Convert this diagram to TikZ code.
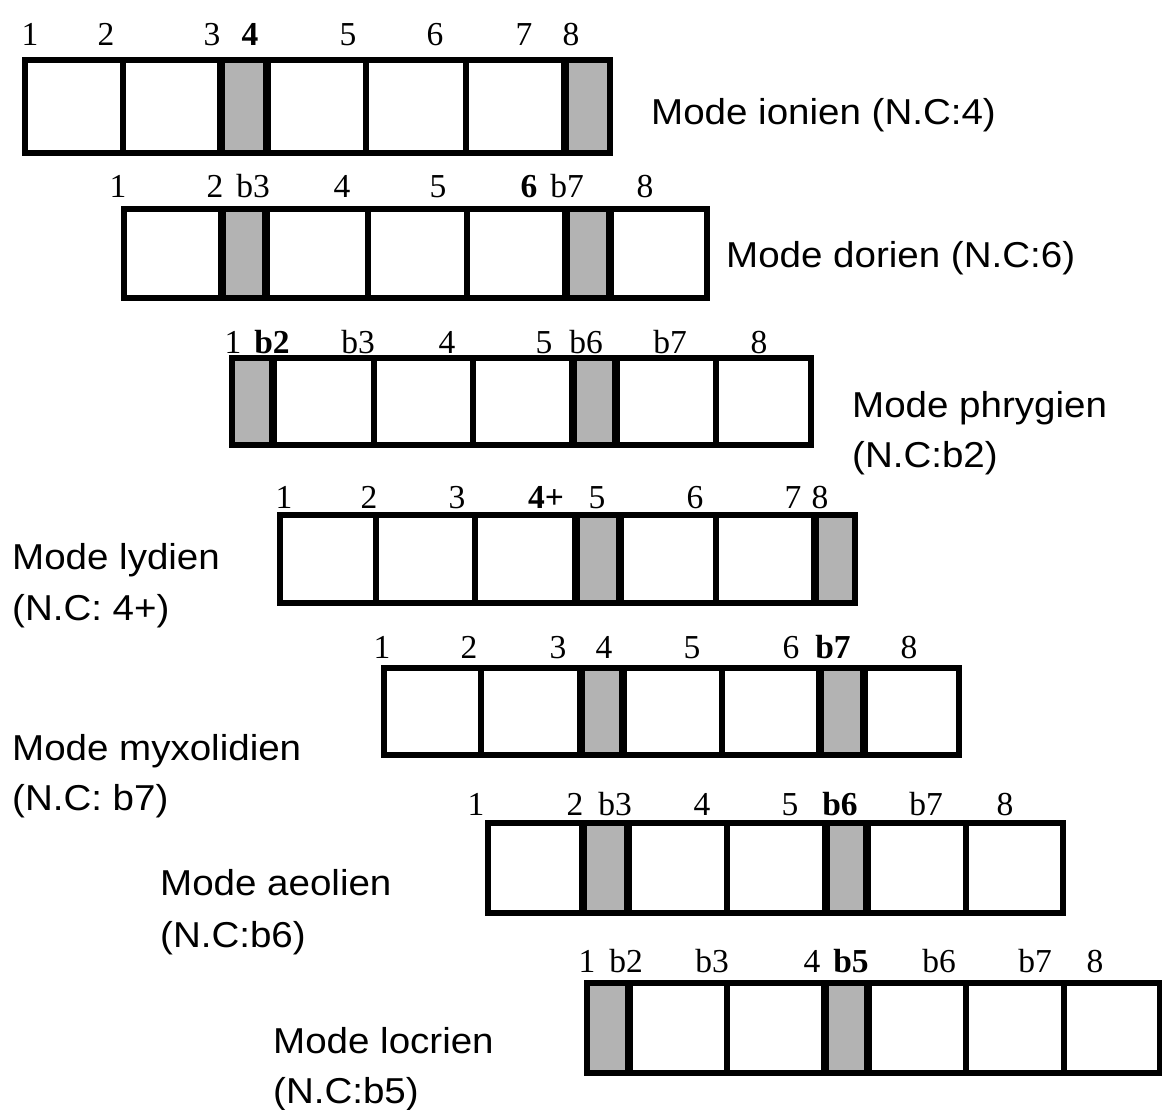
\documentclass[tikz,border=0pt]{standalone}
\usepackage{fontspec}
\newfontfamily\numfont{Liberation Serif}
\newfontfamily\labfont[FakeStretch=1.07]{Liberation Sans}
\definecolor{cellgray}{RGB}{179,179,179}
\tikzset{
  outline/.style={draw=black, line width=6pt, line join=miter},
  divline/.style={draw=black, line width=5.5pt},
  gline/.style={draw=black, line width=8.5pt},
  num/.style={font=\numfont\fontsize{33.5}{35}\selectfont, anchor=base, inner sep=0pt},
  bnum/.style={font=\numfont\bfseries\fontsize{33.5}{35}\selectfont, anchor=base, inner sep=0pt},
  lab/.style={font=\labfont\fontsize{36}{38}\selectfont, anchor=base west, inner sep=0pt},
}
% #1 top, #2 bottom, #3 gray x-pairs, #4 normal dividers, #5 thick dividers, #6 left, #7 right
\newcommand\modebar[7]{%
  \foreach \ga/\gb in {#3}{\fill[cellgray] (\ga,#1) rectangle (\gb,#2);}
  \foreach \d in {#4}{\draw[divline] (\d,#1) -- (\d,#2);}
  \foreach \d in {#5}{\draw[gline] (\d,#1) -- (\d,#2);}
  \draw[outline] (#6,#1) rectangle (#7,#2);
}
\begin{document}
\begin{tikzpicture}[x=1pt,y=-1pt]
\useasboundingbox (0,0) rectangle (1162,1110);
\fill[white] (0,0) rectangle (1162,1110);

% Row 1: ionien
\modebar{60}{153}{221/267,565/610}{123,366,466}{221,267,565}{25}{610}
\node[num] (a1) at (30,46) {1};
\node[num] (a2) at (106,46) {2};
\node[num] (a3) at (212,46) {3};
\node[bnum] (a4) at (250,46) {4};
\node[num] (a5) at (348,46) {5};
\node[num] (a6) at (435,46) {6};
\node[num] (a7) at (524,46) {7};
\node[num] (a8) at (571,46) {8};
\node[lab] (la) at (651,125) {Mode ionien (N.C:4)};

% Row 2: dorien
\modebar{209}{298}{222/266,566/610}{368,467}{222,266,566,610}{124}{707}
\node[num] (b1) at (118,198) {1};
\node[num] (b2) at (215,198) {2};
\node[num] (b3) at (253,198) {b3};
\node[num] (b4) at (342,198) {4};
\node[num] (b5) at (438,198) {5};
\node[bnum] (b6) at (529,198) {6};
\node[num] (b7) at (567,198) {b7};
\node[num] (b8) at (645,198) {8};
\node[lab] (lb) at (726,267) {Mode dorien (N.C:6)};

% Row 3: phrygien
\modebar{358}{445}{232/273,573/616}{374,473,716}{273,573,616}{232}{811}
\node[num] (c1) at (233,353) {1};
\node[bnum] (c2) at (272,353) {b2};
\node[num] (c3) at (358,353) {b3};
\node[num] (c4) at (447,353) {4};
\node[num] (c5) at (544,353) {5};
\node[num] (c6) at (586,353) {b6};
\node[num] (c7) at (670,353) {b7};
\node[num] (c8) at (759,353) {8};
\node[lab] (lc1) at (852,417) {Mode phrygien};
\node[lab] (lc2) at (852,467) {(N.C:b2)};

% Row 4: lydien
\modebar{515}{603}{576/620,815/855}{376,475,716}{576,620,815}{280}{855}
\node[num] (d1) at (284,508) {1};
\node[num] (d2) at (369,508) {2};
\node[num] (d3) at (457,508) {3};
\node[bnum] (d4) at (546,508) {4+};
\node[num] (d5) at (597,508) {5};
\node[num] (d6) at (695,508) {6};
\node[num] (d7) at (793,508) {7};
\node[num] (d8) at (820,508) {8};
\node[lab] (ld1) at (12,569) {Mode lydien};
\node[lab] (ld2) at (12,620) {(N.C: 4+)};

% Row 5: myxolidien
\modebar{668}{755}{581/623,820/864}{481,722}{581,623,820,864}{384}{959}
\node[num] (e1) at (382,658) {1};
\node[num] (e2) at (469,658) {2};
\node[num] (e3) at (558,658) {3};
\node[num] (e4) at (604,658) {4};
\node[num] (e5) at (692,658) {5};
\node[num] (e6) at (791,658) {6};
\node[bnum] (e7) at (833,658) {b7};
\node[num] (e8) at (909,658) {8};
\node[lab] (le1) at (12,760) {Mode myxolidien};
\node[lab] (le2) at (12,810) {(N.C: b7)};

% Row 6: aeolien
\modebar{823}{913}{583/628,826/867}{727,966}{583,628,826,867}{488}{1063}
\node[num] (f1) at (476,815) {1};
\node[num] (f2) at (575,815) {2};
\node[num] (f3) at (615,815) {b3};
\node[num] (f4) at (702,815) {4};
\node[num] (f5) at (790,815) {5};
\node[bnum] (f6) at (840,815) {b6};
\node[num] (f7) at (926,815) {b7};
\node[num] (f8) at (1005,815) {8};
\node[lab] (lf1) at (160,895) {Mode aeolien};
\node[lab] (lf2) at (160,947) {(N.C:b6)};

% Row 7: locrien
\modebar{983}{1073}{587/629,825/868}{727,966,1064}{629,825,868}{587}{1160}
\node[num] (g1) at (587,972) {1};
\node[num] (g2) at (626,972) {b2};
\node[num] (g3) at (712,972) {b3};
\node[num] (g4) at (812,972) {4};
\node[bnum] (g5) at (851,972) {b5};
\node[num] (g6) at (939,972) {b6};
\node[num] (g7) at (1035,972) {b7};
\node[num] (g8) at (1095,972) {8};
\node[lab] (lg1) at (273,1053) {Mode locrien};
\node[lab] (lg2) at (273,1103) {(N.C:b5)};
\end{tikzpicture}
\end{document}
